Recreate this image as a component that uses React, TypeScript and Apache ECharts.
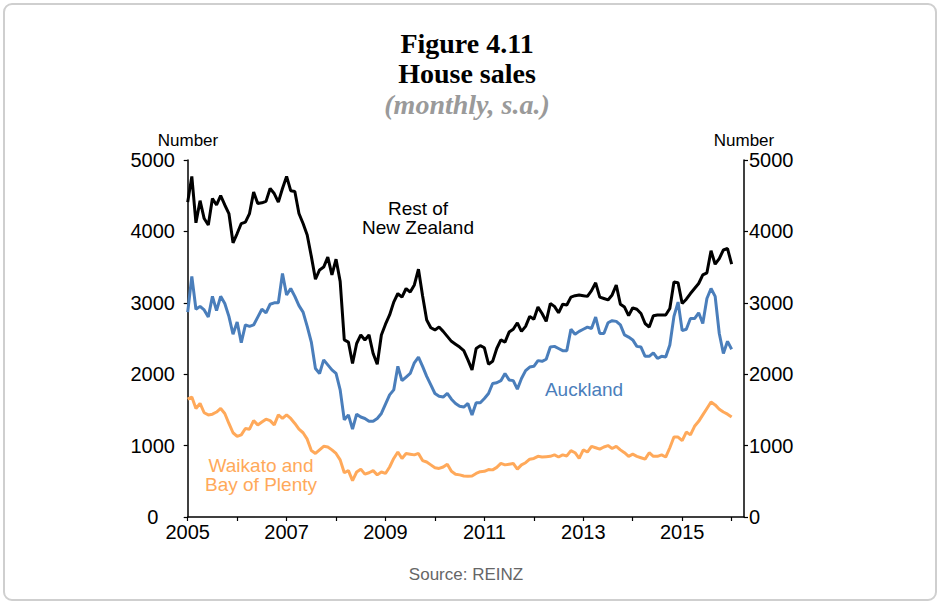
import React, { useEffect, useRef } from "react";
import * as echarts from "echarts";

// Monthly data, Jan 2005 (index 0) to Jan 2016 (index 132)
const restOfNZ: number[] = [
  4410, 4770, 4120, 4430, 4180, 4090, 4460, 4370, 4500, 4370, 4250, 3840, 3970, 4110, 4130, 4250, 4550, 4390, 4400, 4420, 4600, 4530, 4410, 4600, 4770, 4570, 4560, 4250, 4110, 3950, 3650, 3330, 3460, 3500, 3640,
  3390, 3610, 3300, 2480, 2450, 2150, 2430, 2550, 2480, 2550, 2290, 2140, 2550, 2700, 2830, 3010, 3130, 3080, 3200, 3150, 3250, 3470, 3100, 2760, 2650, 2620, 2660, 2600, 2530, 2460, 2420, 2380, 2330, 2200,
  2060, 2360, 2400, 2370, 2140, 2180, 2360, 2480, 2450, 2590, 2630, 2720, 2600, 2670, 2810, 2770, 2940, 2850, 2740, 2990, 2950, 2860, 2980, 2970, 3080, 3100, 3110, 3100, 3090, 3170, 3280, 3080, 3060, 3040,
  3110, 3250, 2980, 2940, 2820, 2930, 2910, 2850, 2710, 2660, 2820, 2830, 2830, 2830, 2920, 3290, 3280, 2990, 3050, 3130, 3200, 3270, 3390, 3420, 3730, 3540, 3620, 3740, 3760, 3540,
];

const auckland: number[] = [
  2870, 3370, 2910, 2950, 2900, 2800, 3090, 2890, 3090, 2990, 2810, 2560, 2730, 2440, 2690, 2670, 2690, 2800, 2910, 2860, 2980, 3000, 3000, 3410, 3110, 3200, 3090, 2960, 2870, 2670, 2450, 2080, 2010, 2200, 2130,
  2060, 2010, 1780, 1360, 1430, 1230, 1440, 1400, 1380, 1340, 1340, 1380, 1450, 1580, 1710, 1780, 2110, 1910, 1960, 2010, 2160, 2240, 2110, 1970, 1850, 1730, 1690, 1680, 1730, 1650, 1590, 1550, 1540, 1590,
  1430, 1600, 1600, 1660, 1730, 1870, 1880, 1910, 2010, 1920, 1910, 1790, 1940, 2050, 2100, 2110, 2190, 2180, 2210, 2380, 2390, 2360, 2330, 2330, 2630, 2560, 2600, 2630, 2660, 2640, 2800, 2570, 2570, 2720,
  2750, 2740, 2690, 2550, 2520, 2480, 2390, 2380, 2250, 2250, 2300, 2220, 2250, 2240, 2410, 2810, 3010, 2610, 2630, 2780, 2780, 2860, 2710, 3060, 3200, 3090, 2570, 2290, 2460, 2350,
];

const waikatoBop: number[] = [
  1650, 1680, 1520, 1590, 1460, 1430, 1440, 1470, 1520, 1450, 1310, 1180, 1130, 1150, 1240, 1230, 1350, 1290, 1330, 1370, 1350, 1290, 1430, 1380, 1430, 1380, 1310, 1230, 1180, 1090, 930, 890, 940, 990, 980,
  940, 890, 800, 620, 650, 510, 630, 670, 600, 620, 650, 590, 630, 610, 700, 820, 910, 820, 890, 880, 870, 890, 790, 770, 730, 690, 680, 700, 740, 640, 600, 590, 575, 570,
  575, 610, 635, 640, 665, 660, 695, 750, 730, 740, 750, 670, 730, 760, 810, 820, 850, 840, 845, 850, 870, 840, 870, 855, 930, 900, 820, 940, 910, 990, 970, 950, 980, 1000,
  960, 990, 940, 900, 850, 880, 850, 830, 810, 900, 850, 850, 870, 840, 970, 1120, 1120, 1070, 1190, 1150, 1270, 1340, 1430, 1520, 1610, 1570, 1510, 1470, 1440, 1400,
];

const startYear = 2005;
const xMaxMonths = 135;
const yMax = 5000;
const yStep = 1000;

const BLACK = "#000000";
const BLUE = "#4A7EBB";
const ORANGE = "#FFA95A";
const SANS = '"Liberation Sans", Arial, sans-serif';
const SERIF = '"Liberation Serif", "Times New Roman", serif';

const toPairs = (arr: number[]) => arr.map((v, i) => [i, v]);

export default function App() {
  const ref = useRef<HTMLDivElement>(null);
  useEffect(() => {
    if (!ref.current) return;
    const chart = echarts.init(ref.current, undefined, { renderer: "svg" });
    const axisLine = { show: true, lineStyle: { color: BLACK, width: 1.5 } };
    const yAxisBase = {
      type: "value",
      min: 0,
      max: yMax,
      interval: yStep,
      axisLine,
      axisTick: { show: true, inside: false, length: 4, lineStyle: { color: BLACK, width: 1.2 } },
      splitLine: { show: false },
    };
    chart.setOption({
      animation: false,
      backgroundColor: "#ffffff",
      grid: { left: 187.7, right: 198, top: 160, bottom: 90, containLabel: false },
      xAxis: {
        type: "value",
        min: 0,
        max: xMaxMonths,
        interval: 12,
        axisLine,
        axisTick: { show: true, inside: false, length: 4, lineStyle: { color: BLACK, width: 1.2 } },
        splitLine: { show: false },
        axisLabel: {
          show: true,
          margin: 5,
          color: BLACK,
          fontFamily: SANS,
          fontSize: 20,
          showMaxLabel: false,
          formatter: (v: number) => (v % 24 === 0 ? String(startYear + v / 12) : ""),
        },
      },
      yAxis: [
        {
          ...yAxisBase,
          position: "left",
          axisLabel: { color: BLACK, fontFamily: SANS, fontSize: 20, margin: 35, align: "center", formatter: (v: number) => String(v) },
        },
        {
          ...yAxisBase,
          position: "right",
          axisLabel: { color: BLACK, fontFamily: SANS, fontSize: 20, margin: 5, formatter: (v: number) => String(v) },
        },
      ],
      series: [
        {
          name: "Waikato and Bay of Plenty",
          type: "line",
          data: toPairs(waikatoBop),
          showSymbol: false,
          lineStyle: { color: ORANGE, width: 3 },
          itemStyle: { color: ORANGE },
        },
        {
          name: "Auckland",
          type: "line",
          data: toPairs(auckland),
          showSymbol: false,
          lineStyle: { color: BLUE, width: 3 },
          itemStyle: { color: BLUE },
        },
        {
          name: "Rest of New Zealand",
          type: "line",
          data: toPairs(restOfNZ),
          showSymbol: false,
          lineStyle: { color: BLACK, width: 3 },
          itemStyle: { color: BLACK },
        },
      ],
      graphic: [
        {
          type: "rect",
          shape: { x: 4, y: 4, width: 932, height: 596, r: 8 },
          style: { fill: "none", stroke: "#cfcfcf", lineWidth: 2 },
          silent: true,
        },
        {
          type: "text",
          x: 467,
          y: 43,
          style: { text: "Figure 4.11", font: `bold 28px ${SERIF}`, fill: BLACK, textAlign: "center", textVerticalAlign: "middle" },
        },
        {
          type: "text",
          x: 467,
          y: 73,
          style: { text: "House sales", font: `bold 28px ${SERIF}`, fill: BLACK, textAlign: "center", textVerticalAlign: "middle" },
        },
        {
          type: "text",
          x: 467,
          y: 104,
          style: { text: "(monthly, s.a.)", font: `italic bold 28px ${SERIF}`, fill: "#9a9a9a", textAlign: "center", textVerticalAlign: "middle" },
        },
        {
          type: "text",
          x: 188,
          y: 140,
          style: { text: "Number", font: `17px ${SANS}`, fill: BLACK, textAlign: "center", textVerticalAlign: "middle" },
        },
        {
          type: "text",
          x: 744,
          y: 140,
          style: { text: "Number", font: `17px ${SANS}`, fill: BLACK, textAlign: "center", textVerticalAlign: "middle" },
        },
        {
          type: "text",
          x: 418,
          y: 217.5,
          style: { text: "Rest of\nNew Zealand", font: `19px ${SANS}`, lineHeight: 19, fill: BLACK, textAlign: "center", textVerticalAlign: "middle" },
        },
        {
          type: "text",
          x: 584,
          y: 389,
          style: { text: "Auckland", font: `19px ${SANS}`, fill: BLUE, textAlign: "center", textVerticalAlign: "middle" },
        },
        {
          type: "text",
          x: 261,
          y: 474.5,
          style: { text: "Waikato and\nBay of Plenty", font: `19px ${SANS}`, lineHeight: 19, fill: ORANGE, textAlign: "center", textVerticalAlign: "middle" },
        },
        {
          type: "text",
          x: 466,
          y: 574,
          style: { text: "Source: REINZ", font: `17px ${SANS}`, fill: "#666666", textAlign: "center", textVerticalAlign: "middle" },
        },
      ],
    });
    return () => chart.dispose();
  }, []);
  return (
    <div
      ref={ref}
      style={{ position: "fixed", left: 0, top: 0, width: 942, height: 607, background: "#fff" }}
    />
  );
}
